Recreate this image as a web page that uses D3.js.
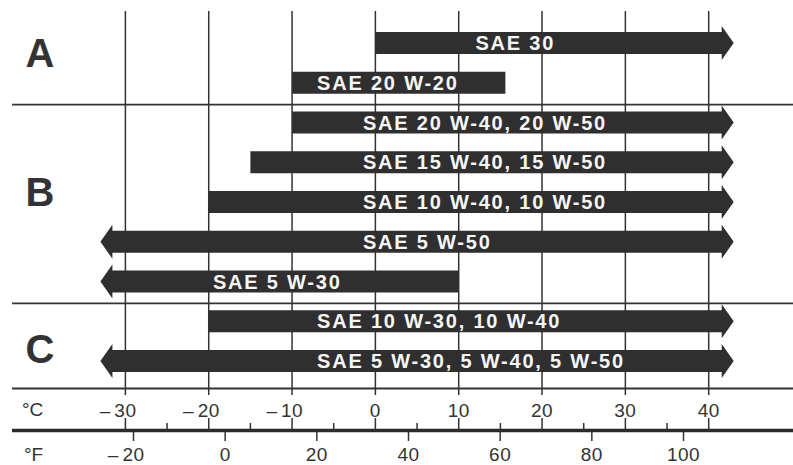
<!DOCTYPE html>
<html><head><meta charset="utf-8">
<script src="https://cdn.jsdelivr.net/npm/d3@7"></script>
<style>
html,body{margin:0;padding:0;background:#fff;}
svg{display:block;}
</style></head>
<body>
<svg id="chart" width="793" height="465"></svg>
<script>
// ---- data ----
const cTicks = [-30, -20, -10, 0, 10, 20, 30, 40];
const cMinorTicks = [-25, -15, -5, 5, 15, 25, 35];
const fTicks = [-20, 0, 20, 40, 60, 80, 100];
const grades = ["SAE 30", "SAE 20 W-20", "SAE 20 W-40, 20 W-50", "SAE 15 W-40, 15 W-50",
  "SAE 10 W-40, 10 W-50", "SAE 5 W-50", "SAE 5 W-30", "SAE 10 W-30, 10 W-40",
  "SAE 5 W-30, 5 W-40, 5 W-50"];
// lowest / highest ambient temperature in °C (null = open ended, drawn as arrow)
const lowC = [0, -10, -10, -15, -20, null, null, -20, null];
const highC = [null, 15.6, null, null, null, null, 10, null, null];
// where each label starts, °C
const labelStartC = [12, -7, -1.5, -1.5, -1.5, -1.5, -19.5, -7, -7];
const groups = ["A", "B", "C"];
const groupOfRow = ["A", "A", "B", "B", "B", "B", "B", "C", "C"];

// ---- layout ----
const svg = d3.select("#chart");
const ink = "#333";
const x = d3.scaleLinear().domain([-30, 40]).range([125.4, 708.7]);
const xF = d3.scaleLinear().domain([-20, 100]).range([133.5, 683.5]);
const y = d3.scaleLinear().domain([0, 8]).range([43, 361]);
const openLeft = -33, openRight = 43;
const bodyH = 22, headH = 34, headL = 12;
const letterRow = {A: 0.23, B: 3.75, C: 7.7};
const font = "'Liberation Sans', Arial, Helvetica, sans-serif";

// vertical grid lines
svg.append("g").selectAll("line").data(cTicks).join("line")
  .attr("x1", d => x(d)).attr("x2", d => x(d))
  .attr("y1", 11).attr("y2", 395)
  .attr("stroke", ink).attr("stroke-width", 1.5);

// group separators
const sepRows = [];
for (let i = 1; i < groupOfRow.length; i++) if (groupOfRow[i] !== groupOfRow[i - 1]) sepRows.push(i - 0.45);
svg.append("g").selectAll("line").data(sepRows).join("line")
  .attr("x1", 12).attr("x2", 793)
  .attr("y1", d => y(d)).attr("y2", d => y(d))
  .attr("stroke", ink).attr("stroke-width", 1.6);

// bars
const rows = grades.map((g, i) => ({g, i, lo: lowC[i], hi: highC[i], lab: labelStartC[i]}));
function barPath(d) {
  const cy = y(d.i), t = cy - bodyH / 2, b = cy + bodyH / 2;
  const p = d3.path();
  const xl = d.lo === null ? x(openLeft) + headL : x(d.lo);
  const xr = d.hi === null ? x(openRight) - headL : x(d.hi);
  p.moveTo(xl, t);
  p.lineTo(xr, t);
  if (d.hi === null) {
    p.lineTo(xr, cy - headH / 2); p.lineTo(x(openRight), cy); p.lineTo(xr, cy + headH / 2);
  }
  p.lineTo(xr, b);
  p.lineTo(xl, b);
  if (d.lo === null) {
    p.lineTo(xl, cy + headH / 2); p.lineTo(x(openLeft), cy); p.lineTo(xl, cy - headH / 2);
  }
  p.closePath();
  return p.toString();
}
svg.append("g").selectAll("path").data(rows).join("path")
  .attr("d", barPath).attr("fill", "#2f2f2f");

svg.append("g").selectAll("text").data(rows).join("text")
  .attr("x", d => x(d.lab)).attr("y", d => y(d.i)).attr("dy", "0.36em")
  .attr("fill", "#f6f6f6").attr("font-family", font).attr("font-weight", "bold")
  .attr("font-size", 20).attr("letter-spacing", 1.8)
  .text(d => d.g);

// group letters
svg.append("g").selectAll("text").data(groups).join("text")
  .attr("x", 40).attr("y", d => y(letterRow[d])).attr("dy", "0.36em")
  .attr("text-anchor", "middle").attr("fill", ink)
  .attr("font-family", font).attr("font-weight", "bold").attr("font-size", 40)
  .text(d => d);

// axes lines
const cAxisY = 388.5, fAxisY = 430.5;
svg.append("line").attr("x1", 12).attr("x2", 793).attr("y1", cAxisY).attr("y2", cAxisY)
  .attr("stroke", ink).attr("stroke-width", 2.2);
svg.append("line").attr("x1", 12).attr("x2", 793).attr("y1", fAxisY).attr("y2", fAxisY)
  .attr("stroke", "#2a2a2a").attr("stroke-width", 3.5);

// °C ticks above F line
svg.append("g").selectAll("line").data(cTicks).join("line")
  .attr("x1", d => x(d)).attr("x2", d => x(d)).attr("y1", 418).attr("y2", fAxisY)
  .attr("stroke", ink).attr("stroke-width", 1.5);
svg.append("g").selectAll("line").data(cMinorTicks).join("line")
  .attr("x1", d => x(d)).attr("x2", d => x(d)).attr("y1", 423).attr("y2", fAxisY)
  .attr("stroke", ink).attr("stroke-width", 1.5);
// °F ticks below
svg.append("g").selectAll("line").data(fTicks).join("line")
  .attr("x1", d => xF(d)).attr("x2", d => xF(d)).attr("y1", fAxisY).attr("y2", 441)
  .attr("stroke", ink).attr("stroke-width", 1.5);

function tickLabels(vals, scale, baseY) {
  const g = svg.append("g").attr("font-family", font).attr("font-size", 19).attr("fill", ink);
  vals.forEach(v => {
    const t = g.append("text").attr("x", scale(v)).attr("y", baseY)
      .attr("text-anchor", "middle").attr("letter-spacing", 0.5).text(Math.abs(v));
    if (v < 0) {
      const w = t.node().getComputedTextLength();
      g.append("text").attr("x", scale(v) - w / 2 - 4).attr("y", baseY)
        .attr("text-anchor", "end").text("\u2013");
    }
  });
}
tickLabels(cTicks, x, 417);
tickLabels(fTicks, xF, 461);

svg.append("text").attr("x", 22).attr("y", 416).attr("font-family", font)
  .attr("font-size", 19).attr("fill", ink).text("\u00b0C");
svg.append("text").attr("x", 24).attr("y", 461).attr("font-family", font)
  .attr("font-size", 19).attr("fill", ink).text("\u00b0F");
</script>
</body></html>
